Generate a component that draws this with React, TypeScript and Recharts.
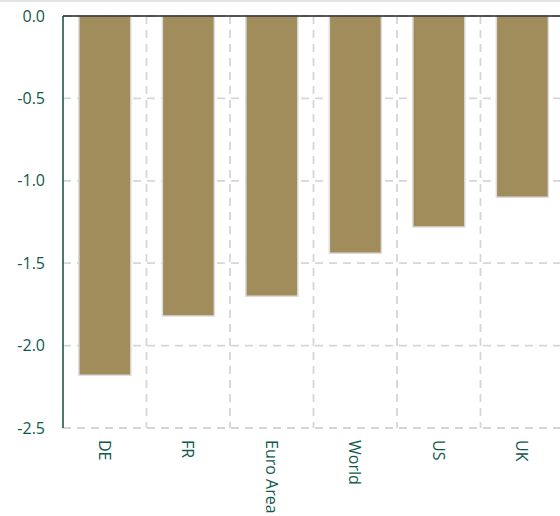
import { Bar, BarChart, CartesianGrid, ReferenceLine, XAxis, YAxis } from "recharts";

const regions = ["DE", "FR", "Euro Area", "World", "US", "UK"];
const change = [-2.18, -1.82, -1.7, -1.44, -1.28, -1.1];
const yTicks = [0, -0.5, -1, -1.5, -2, -2.5];

const data = regions.map((name, i) => ({ name, value: change[i] }));

const TEXT = "#0f5a4b";
const FONT = "'Open Sans', sans-serif";

function RotatedTick({ x, y, payload }: any) {
  return (
    <text
      x={0}
      y={0}
      transform={`translate(${x},${y + 4}) rotate(90)`}
      textAnchor="start"
      dominantBaseline="central"
      fill={TEXT}
      fontSize={16}
      fontFamily={FONT}
    >
      {payload.value}
    </text>
  );
}

export default function App() {
  return (
    <div
      style={{
        position: "absolute",
        left: 0,
        top: 0,
        width: 560,
        height: 516,
        overflow: "hidden",
        borderTop: "2px solid #e3e3e3",
        boxSizing: "border-box",
        background: "#fff",
      }}
    >
      <div style={{ position: "absolute", left: 0, top: -2 }}>
        <BarChart
          width={570}
          height={516}
          data={data}
          margin={{ top: 16, right: 6, bottom: 0, left: 0 }}
          barCategoryGap="19%"
        >
          <CartesianGrid
            stroke="#d6d6d6"
            strokeDasharray="8 6"
            strokeWidth={1.8}
            verticalCoordinatesGenerator={({ offset }: any) =>
              regions.map((_, k) => offset.left + (offset.width * (k + 1)) / regions.length)
            }
          />
          <XAxis
            dataKey="name"
            axisLine={false}
            tickLine={false}
            height={88}
            interval={0}
            tick={<RotatedTick />}
          />
          <YAxis
            domain={[-2.5, 0]}
            ticks={yTicks}
            width={63}
            axisLine={{ stroke: "#0f4d40", strokeWidth: 1.5 }}
            tickLine={false}
            tickSize={0}
            tickMargin={18}
            tickFormatter={(v: number) => v.toFixed(1)}
            tick={{ fill: TEXT, fontSize: 16, fontFamily: FONT }}
          />
          <ReferenceLine y={0} stroke="#222" strokeWidth={1.5} />
          <Bar dataKey="value" fill="#a18d5c" stroke="#dcdcdc" strokeWidth={1.5} isAnimationActive={false} />
        </BarChart>
      </div>
    </div>
  );
}
